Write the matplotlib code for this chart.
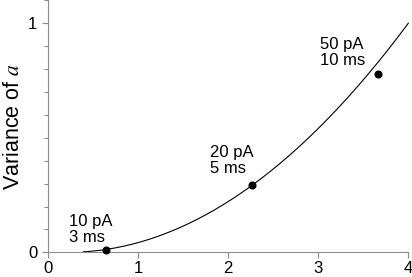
import numpy as np
import matplotlib
matplotlib.use("Agg")
import matplotlib.pyplot as plt
from matplotlib.ticker import MultipleLocator

# data
point_x = [0.637, 2.267, 3.66]
point_y = [0.010, 0.296, 0.78]
point_labels = ["10 pA\n3 ms", "20 pA\n5 ms", "50 pA\n10 ms"]
label_x = [0.23, 1.80, 3.02]
label_y = [0.10, 0.40, 0.872]

# fitted curve y = fit_a * (x - fit_x0)**2, drawn from curve_start to curve_end
fit_a = 0.070
fit_x0 = 0.22
curve_start = 0.39
curve_end = 4.0

x_ticks = [0, 1, 2, 3, 4]
y_ticks = [0, 1]

plt.rcParams['font.family'] = ['Liberation Sans', 'DejaVu Sans']
plt.rcParams['mathtext.fontset'] = 'stix'

fig = plt.figure(figsize=(4.12, 2.77), dpi=100)
ax = fig.add_axes([48.3 / 412, 1 - 252.3 / 277, 360 / 412, 252.3 / 277])

xc = np.linspace(curve_start, curve_end, 200)
yc = fit_a * (xc - fit_x0) ** 2
ax.plot(xc, yc, color='black', lw=0.8, clip_on=False)
ax.plot(point_x, point_y, 'o', color='black', markersize=4.8, clip_on=False, zorder=3)

for tx, ty, t in zip(label_x, label_y, point_labels):
    ax.text(tx, ty, t, ha='left', va='center', fontsize=12, linespacing=1.1)

ax.set_xlim(0, 4)
ax.set_ylim(0, 252.3 / 229)
ax.set_xticks(x_ticks)
ax.set_yticks(y_ticks)
ax.yaxis.set_minor_locator(MultipleLocator(0.1))

for s in ['top', 'right']:
    ax.spines[s].set_visible(False)
for s in ['left', 'bottom']:
    ax.spines[s].set_color('#8c8c8c')
    ax.spines[s].set_linewidth(0.8)

ax.tick_params(axis='both', which='major', direction='out', length=4, width=0.8,
               color='#8c8c8c', labelsize=12, labelcolor='black')
ax.tick_params(axis='y', which='minor', direction='out', length=3, width=0.8, color='#8c8c8c')
ax.tick_params(axis='x', which='major', pad=2)
ax.tick_params(axis='y', which='major', pad=4)

ax.set_ylabel(r"Variance of $\mathit{a}$", fontsize=15.5, labelpad=3)

fig.savefig("out.png", dpi=100)
